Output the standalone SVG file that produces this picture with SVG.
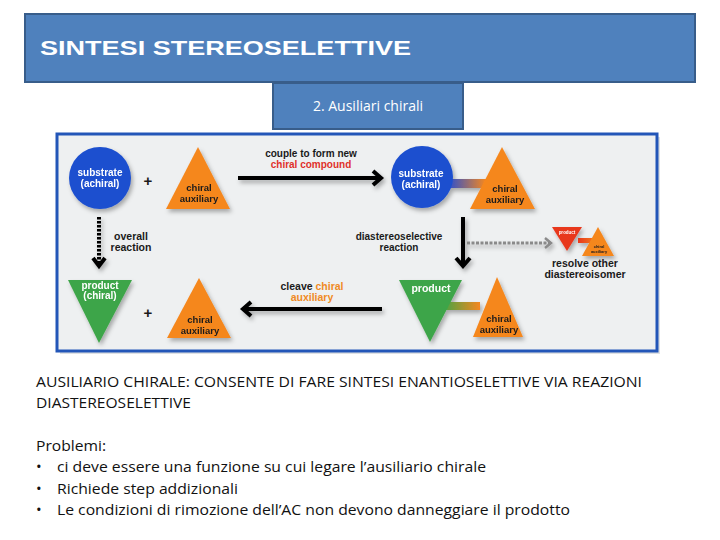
<svg xmlns="http://www.w3.org/2000/svg" width="720" height="540" viewBox="0 0 720 540">
<defs>
<style>
.ttl{font-family:"Liberation Sans",Arial,sans-serif;font-weight:bold;fill:#fff}
.sub{font-family:"Open Sans","Liberation Sans",sans-serif;fill:#fff}
.d{font-family:"Liberation Sans",Arial,sans-serif;font-weight:bold;text-anchor:middle}
.w{fill:#fff}
.k{fill:#1a1a1a}
.body{font-family:"Open Sans","Liberation Sans",sans-serif;font-size:15px;fill:#111}
.blue{fill:#1b4fcf}
.orange{fill:#f5871f}
.green{fill:#3ea548}
.red{fill:#e8381e}
.arr{stroke:#000;stroke-width:4;fill:none}
.head{stroke:#000;stroke-width:4;fill:none;stroke-linejoin:miter}
</style>
<filter id="sh" x="-20%" y="-20%" width="150%" height="150%">
<feDropShadow dx="2" dy="3" stdDeviation="2" flood-color="#000" flood-opacity="0.3"/>
</filter>
<linearGradient id="gb" x1="0" x2="1" y1="0" y2="0">
<stop offset="0" stop-color="#2a4fd0"/><stop offset="1" stop-color="#f5871f"/>
</linearGradient>
<linearGradient id="gg" x1="0" x2="1" y1="0" y2="0">
<stop offset="0" stop-color="#4aa443"/><stop offset="1" stop-color="#f5871f"/>
</linearGradient>
<linearGradient id="gr" x1="0" x2="1" y1="0" y2="0">
<stop offset="0" stop-color="#e8381e"/><stop offset="1" stop-color="#f5871f"/>
</linearGradient>
</defs>
<rect width="720" height="540" fill="#fff"/>

<g id="title">
<rect x="25" y="14" width="670" height="68" fill="#4f81bd" stroke="#385d8a" stroke-width="2"/>
<text class="ttl" x="40" y="55" font-size="20" textLength="371" lengthAdjust="spacingAndGlyphs">SINTESI STEREOSELETTIVE</text>
</g>
<g id="subtitle">
<rect x="273" y="83" width="190" height="46" fill="#4f81bd" stroke="#385d8a" stroke-width="2"/>
<text class="sub" x="368" y="111" font-size="14" text-anchor="middle">2. Ausiliari chirali</text>
</g>

<g id="panel">
<rect x="60" y="137" width="600" height="217" fill="#bfc3c7" opacity="0.5"/>
<rect x="57" y="134" width="600" height="217" fill="#eef0f1" stroke="#2356b8" stroke-width="3"/>
</g>

<g id="substrate-left" filter="url(#sh)">
<circle cx="100" cy="178" r="31" class="blue"/>
<text class="d w" x="100" y="176" font-size="10">substrate</text>
<text class="d w" x="100" y="187" font-size="10">(achiral)</text>
</g>
<g id="plus-top"><text class="d k" x="148" y="186" font-size="15">+</text></g>
<g id="aux-top-left" filter="url(#sh)">
<polygon points="198,147 230,209 166,209" class="orange"/>
<text class="d k" x="199" y="191" font-size="9.5">chiral</text>
<text class="d k" x="199" y="202" font-size="9.5">auxiliary</text>
</g>

<g id="compound-top" filter="url(#sh)">
<rect x="448" y="179" width="38" height="9" fill="url(#gb)"/>
<circle cx="422" cy="177" r="31" class="blue"/>
<polygon points="502,147 535,209 470,209" class="orange"/>
<text class="d w" x="421" y="177" font-size="10">substrate</text>
<text class="d w" x="421" y="188" font-size="10">(achiral)</text>
<text class="d k" x="505" y="192" font-size="9.5">chiral</text>
<text class="d k" x="505" y="203" font-size="9.5">auxiliary</text>
</g>

<g id="product-left" filter="url(#sh)">
<polygon points="68,280 132,280 99,343" class="green"/>
<text class="d w" x="100" y="289" font-size="10">product</text>
<text class="d w" x="100" y="299" font-size="10">(chiral)</text>
</g>
<g id="plus-bottom"><text class="d k" x="148" y="318" font-size="15">+</text></g>
<g id="aux-bottom-left" filter="url(#sh)">
<polygon points="199,278 231,338 167,338" class="orange"/>
<text class="d k" x="200" y="323" font-size="9.5">chiral</text>
<text class="d k" x="200" y="334" font-size="9.5">auxiliary</text>
</g>

<g id="compound-bottom" filter="url(#sh)">
<rect x="444" y="302" width="36" height="8" fill="url(#gg)"/>
<polygon points="399,280 462,280 430,342" class="green"/>
<polygon points="497,277 523,337 473,337" class="orange"/>
<text class="d w" x="431" y="292" font-size="10.5">product</text>
<text class="d k" x="499" y="322" font-size="9.5">chiral</text>
<text class="d k" x="499" y="333" font-size="9.5">auxiliary</text>
</g>

<g id="other-diastereoisomer" filter="url(#sh)">
<rect x="578" y="238" width="20" height="5" fill="url(#gr)"/>
<polygon points="552,227 582,227 567,251" class="red"/>
<polygon points="598,227 614,256 582,256" class="orange"/>
<text class="d w" x="567" y="234" font-size="4.5">product</text>
<text class="d k" x="599" y="248" font-size="4">chiral</text>
<text class="d k" x="599" y="253" font-size="4">auxiliary</text>
</g>
<g id="resolve-label">
<text class="d k" x="585" y="267" font-size="10.5">resolve other</text>
<text class="d k" x="585" y="278" font-size="10.5">diastereoisomer</text>
</g>

<g id="connectors">
<g filter="url(#sh)">
<line class="arr" x1="238" y1="178" x2="380" y2="178"/>
<polyline class="head" points="373,171 381,178 373,185"/>
<line class="arr" x1="244" y1="309" x2="382" y2="309"/>
<polyline class="head" points="251,302 243,309 251,316"/>
<line class="arr" x1="463" y1="217" x2="463" y2="265"/>
<polyline class="head" points="456,258 463,266 470,258"/>
<line class="arr" x1="99" y1="217" x2="99" y2="264" stroke-dasharray="2.5 1.5"/>
<polyline class="head" points="93,258 99,266 105,258" stroke-width="3.5"/>
<line x1="467" y1="243" x2="550" y2="243" stroke="#8a8a8a" stroke-width="3" stroke-dasharray="3 1.5"/>
<polyline points="545,238 551,243 545,248" stroke="#8a8a8a" stroke-width="2.5" fill="none"/>
</g>
<text class="d k" x="311" y="157" font-size="10">couple to form new</text>
<text class="d" x="311" y="168" font-size="10" fill="#e0302a">chiral compound</text>
<text class="d k" x="131" y="240" font-size="10.5">overall</text>
<text class="d k" x="131" y="251" font-size="10.5">reaction</text>
<text class="d k" x="399" y="240" font-size="10">diastereoselective</text>
<text class="d k" x="399" y="251" font-size="10">reaction</text>
<text class="d" x="312" y="290" font-size="10.5"><tspan fill="#1a1a1a">cleave </tspan><tspan fill="#f08a24">chiral</tspan></text>
<text class="d" x="312" y="301" font-size="10.5" fill="#f08a24">auxiliary</text>
</g>

<g id="body-text">
<text class="body" x="36" y="387" textLength="606" lengthAdjust="spacingAndGlyphs">AUSILIARIO CHIRALE: CONSENTE DI FARE SINTESI ENANTIOSELETTIVE VIA REAZIONI</text>
<text class="body" x="36" y="408" textLength="155" lengthAdjust="spacingAndGlyphs">DIASTEREOSELETTIVE</text>
<text class="body" x="36" y="451" textLength="70" lengthAdjust="spacingAndGlyphs">Problemi:</text>
<text class="body" x="36" y="472">•</text>
<text class="body" x="57" y="472" textLength="429" lengthAdjust="spacingAndGlyphs">ci deve essere una funzione su cui legare l’ausiliario chirale</text>
<text class="body" x="36" y="494">•</text>
<text class="body" x="57" y="494" textLength="181" lengthAdjust="spacingAndGlyphs">Richiede step addizionali</text>
<text class="body" x="36" y="515">•</text>
<text class="body" x="57" y="515" textLength="513" lengthAdjust="spacingAndGlyphs">Le condizioni di rimozione dell’AC non devono danneggiare il prodotto</text>
</g>
</svg>
